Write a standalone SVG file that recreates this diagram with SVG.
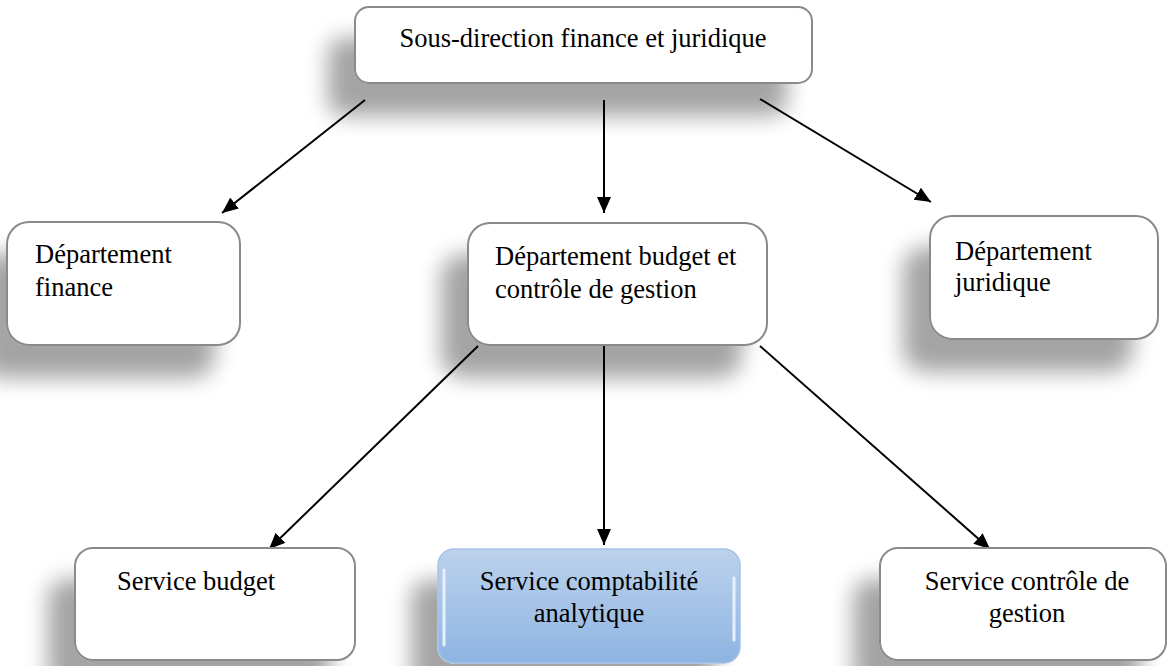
<svg xmlns="http://www.w3.org/2000/svg" width="1168" height="666" viewBox="0 0 1168 666">
  <defs>
    <filter id="shadow" x="-30%" y="-30%" width="160%" height="200%">
      <feGaussianBlur in="SourceAlpha" stdDeviation="11" result="b"/>
      <feOffset in="b" dx="-26" dy="32" result="o"/>
      <feComponentTransfer in="o" result="s">
        <feFuncA type="linear" slope="0.36"/>
      </feComponentTransfer>
      <feMerge>
        <feMergeNode in="s"/>
        <feMergeNode in="SourceGraphic"/>
      </feMerge>
    </filter>
    <linearGradient id="blueFill" x1="0" y1="0" x2="0" y2="1">
      <stop offset="0" stop-color="#bcd2ec"/>
      <stop offset="1" stop-color="#8eb4e3"/>
    </linearGradient>
    <marker id="arrow" viewBox="0 0 16 14" refX="16" refY="7" markerWidth="16" markerHeight="14" markerUnits="userSpaceOnUse" orient="auto">
      <path d="M0,0 L16,7 L0,14 z" fill="#000"/>
    </marker>
    <style>
      .box { fill: #ffffff; stroke: #8a8a8a; stroke-width: 2; filter: url(#shadow); }
      .blue { fill: url(#blueFill); stroke: #a7c2e5; stroke-width: 1.5; filter: url(#shadow); }
      text { font-size: 26.5px; fill: #000; }
      .mid { text-anchor: middle; }
      .conn line { stroke: #000; stroke-width: 2; marker-end: url(#arrow); }
    </style>
  </defs>

  <rect width="1168" height="666" fill="#ffffff"/>

  <!-- connectors -->
  <g id="connectors" class="conn">
    <line x1="365" y1="100" x2="222" y2="213"/>
    <line x1="604" y1="100" x2="604" y2="213"/>
    <line x1="760" y1="99" x2="931" y2="202"/>
    <line x1="478" y1="346" x2="269" y2="549"/>
    <line x1="604" y1="342" x2="604" y2="545"/>
    <line x1="760" y1="346" x2="990" y2="549"/>
  </g>

  <g font-family="Liberation Serif, Tinos, Times New Roman, DejaVu Serif, serif">
    <g id="sous-direction">
      <rect class="box" x="355" y="7" width="457" height="76" rx="14"/>
      <text class="mid" x="583" y="47">Sous-direction finance et juridique</text>
    </g>

    <g id="dept-finance">
      <rect class="box" x="7" y="222" width="233" height="123" rx="22"/>
      <text x="35" y="263">Département</text>
      <text x="35" y="296">finance</text>
    </g>

    <g id="dept-budget">
      <rect class="box" x="468" y="223" width="299" height="122" rx="22"/>
      <text x="495" y="265">Département budget et</text>
      <text x="495" y="298">contrôle de gestion</text>
    </g>

    <g id="dept-juridique">
      <rect class="box" x="930" y="216" width="228" height="123" rx="22"/>
      <text x="955" y="260">Département</text>
      <text x="955" y="291">juridique</text>
    </g>

    <g id="service-budget">
      <rect class="box" x="75" y="548" width="280" height="112" rx="18"/>
      <text x="117" y="590">Service budget</text>
    </g>

    <g id="service-comptabilite">
      <rect class="blue" x="438" y="549" width="302" height="114" rx="16"/>
      <line x1="444" y1="570" x2="444" y2="645" stroke="#e6f0fb" stroke-width="3" stroke-linecap="round"/>
      <line x1="734" y1="578" x2="734" y2="640" stroke="#e6f0fb" stroke-width="3" stroke-linecap="round"/>
      <text class="mid" x="589" y="590">Service comptabilité</text>
      <text class="mid" x="589" y="622">analytique</text>
    </g>

    <g id="service-controle">
      <rect class="box" x="880" y="548" width="286" height="112" rx="18"/>
      <text class="mid" x="1027" y="590">Service contrôle de</text>
      <text class="mid" x="1027" y="622">gestion</text>
    </g>
  </g>
</svg>
